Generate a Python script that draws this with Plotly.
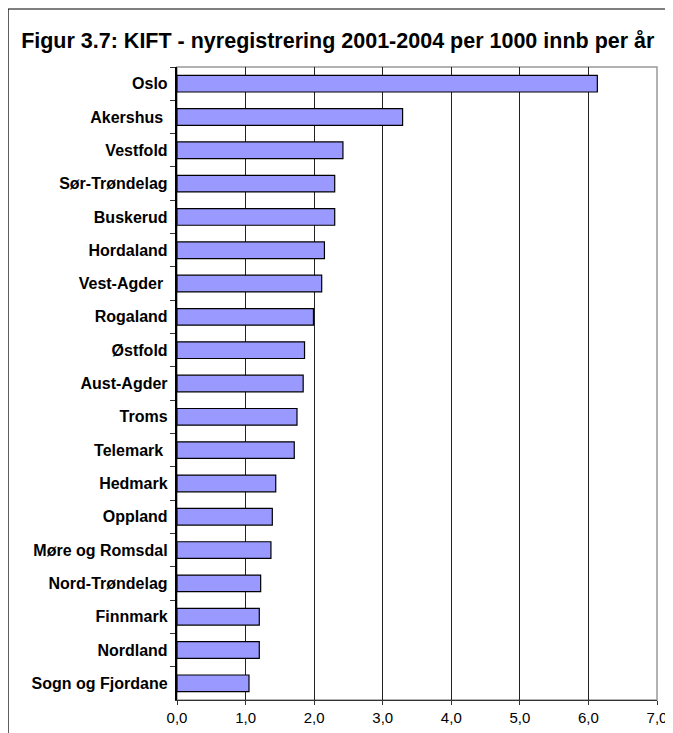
import plotly.graph_objects as go

# fylker, ordered top to bottom as in the figure
fylker = ["Oslo", "Akershus\u00a0", "Vestfold", "Sør-Trøndelag", "Buskerud", "Hordaland",
          "Vest-Agder\u00a0", "Rogaland", "Østfold", "Aust-Agder", "Troms", "Telemark\u00a0",
          "Hedmark", "Oppland", "Møre og Romsdal", "Nord-Trøndelag", "Finnmark",
          "Nordland", "Sogn og Fjordane"]
per_1000 = [6.13, 3.29, 2.42, 2.30, 2.30, 2.15, 2.11, 1.99, 1.86, 1.84, 1.75, 1.71,
            1.44, 1.39, 1.37, 1.22, 1.20, 1.20, 1.05]
x_ticks = [0, 1, 2, 3, 4, 5, 6, 7]

fig = go.Figure(go.Bar(
    x=per_1000, y=fylker, orientation="h",
    marker=dict(color="#9999FF", line=dict(color="black", width=1.2)),
))

fig.update_layout(
    width=673, height=733,
    margin=dict(l=169, r=24, t=59, b=41),
    paper_bgcolor="white", plot_bgcolor="white",
    separators=", ",
    bargap=0.5,
    showlegend=False,
    font=dict(family="Liberation Sans, Arial, sans-serif", color="black"),
    title=dict(text="<b>Figur 3.7: KIFT - nyregistrering 2001-2004 per 1000 innb per år</b>",
               x=0.49, xref="container", xanchor="center",
               y=1 - 32 / 733, yref="container", yanchor="middle",
               font=dict(size=21.5, color="black")),
)

fig.update_xaxes(
    range=[0, 7], tickvals=x_ticks, tickformat=".1f", automargin=False,
    showgrid=True, gridcolor="#222222", gridwidth=1,
    showline=True, linecolor="#333333", linewidth=1,
    ticks="outside", ticklen=4, tickcolor="#333333",
    tickfont=dict(size=15), zeroline=False,
)
fig.update_yaxes(
    categoryorder="array", categoryarray=fylker, autorange="reversed", automargin=False,
    showline=True, linecolor="black", linewidth=1.5,
    ticks="outside", ticklen=5, tickson="boundaries", tickcolor="#333333",
    tickfont=dict(size=16, weight="bold"), ticksuffix=" ",
    showgrid=False,
)

# grey frame around plot area (top/right), outer chart frame (left/top)
fig.add_shape(type="rect", xref="paper", yref="paper", x0=0, x1=1, y0=0, y1=1,
              line=dict(color="#999999", width=1.5), layer="below")
fig.add_shape(type="line", xref="paper", yref="paper", x0=-0.352, x1=-0.352, y0=-0.2, y1=1.0916,
              line=dict(color="black", width=1.2))
fig.add_shape(type="line", xref="paper", yref="paper", x0=-0.352, x1=1.2, y0=1.0916, y1=1.0916,
              line=dict(color="black", width=1.2))

fig.write_html("out.html")
